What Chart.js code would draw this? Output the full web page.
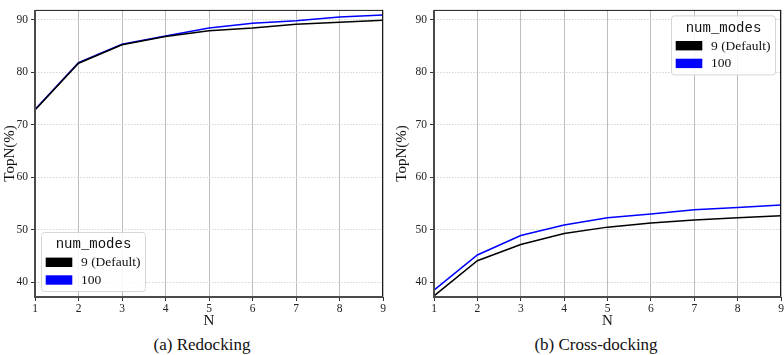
<!DOCTYPE html>
<html>
<head>
<meta charset="utf-8">
<script src="https://cdn.jsdelivr.net/npm/chart.js@4/dist/chart.umd.min.js"></script>
<style>
  html, body { margin: 0; padding: 0; background: #fff; width: 784px; height: 355px; overflow: hidden; position: relative; }
  canvas { position: absolute; top: 0; }
  #c1 { left: 0; }
  #c2 { left: 392px; }
  .cap { position: absolute; top: 335px; font-family: "Liberation Serif", serif; font-size: 17px; color: #111; white-space: nowrap; transform: translateX(-50%); line-height: 20px; }
</style>
</head>
<body>
<canvas id="c1" width="392" height="330"></canvas>
<canvas id="c2" width="400" height="330"></canvas>
<div class="cap" style="left:202px">(a) Redocking</div>
<div class="cap" style="left:596px">(b) Cross-docking</div>
<script>
const nLabels = ["1", "2", "3", "4", "5", "6", "7", "8", "9"];
const seriesNames = ["9 (Default)", "100"];
const legendTitle = "num_modes";
const redock9   = [72.8, 81.7, 85.2, 86.8, 87.9, 88.4, 89.1, 89.5, 89.9];
const redock100 = [72.9, 81.8, 85.3, 86.9, 88.4, 89.3, 89.8, 90.5, 90.9];
const cross9    = [37.4, 44.1, 47.2, 49.3, 50.5, 51.3, 51.85, 52.3, 52.65];
const cross100  = [38.5, 45.2, 48.9, 50.9, 52.3, 53.0, 53.8, 54.25, 54.7];
const yMin = 37.2, yMax = 91.85;

const serif = "'Liberation Serif', serif";

const framePlugin = {
  id: 'frame',
  afterDraw(chart) {
    const {ctx, chartArea: a} = chart;
    ctx.save();
    ctx.strokeStyle = '#1a1a1a';
    ctx.lineWidth = 1;
    ctx.beginPath();
    ctx.moveTo(a.left, a.top + 0.5); ctx.lineTo(a.right, a.top + 0.5);
    ctx.moveTo(a.right - 0.5, a.top); ctx.lineTo(a.right - 0.5, a.bottom);
    ctx.stroke();
    ctx.strokeStyle = '#4a4a4a';
    ctx.lineWidth = 2;
    ctx.beginPath();
    ctx.moveTo(a.left, a.top); ctx.lineTo(a.left, a.bottom + 1);
    ctx.moveTo(a.left - 1, a.bottom); ctx.lineTo(a.right, a.bottom);
    ctx.stroke();
    ctx.restore();
  }
};

const boxLegendPlugin = {
  id: 'boxLegend',
  afterDraw(chart, args, opts) {
    const {ctx, chartArea: a} = chart;
    const w = 104, h = 59;
    let x, y;
    if (opts.corner === 'bl') { x = a.left + 6; y = a.bottom - 6 - h; }
    else { x = a.right - 6 - w; y = a.top + 5.5; }
    ctx.save();
    ctx.beginPath();
    if (ctx.roundRect) ctx.roundRect(x + 0.5, y + 0.5, w, h, 3); else ctx.rect(x + 0.5, y + 0.5, w, h);
    ctx.fillStyle = 'rgba(255,255,255,0.85)';
    ctx.fill();
    ctx.strokeStyle = '#d6d6d6';
    ctx.lineWidth = 1;
    ctx.stroke();
    ctx.fillStyle = '#111';
    ctx.font = "14px 'Liberation Mono', monospace";
    ctx.textAlign = 'center';
    ctx.textBaseline = 'middle';
    ctx.fillText(legendTitle, x + w / 2 + 0.5, y + 12.5);
    ctx.font = "13.5px " + serif;
    ctx.textAlign = 'left';
    chart.data.datasets.forEach((ds, i) => {
      const ry = y + 25.6 + i * 17.7;
      ctx.fillStyle = ds.borderColor;
      ctx.fillRect(x + 4.7, ry, 26.6, 9.4);
      ctx.fillStyle = '#111';
      ctx.fillText(ds.label, x + 40, ry + 5);
    });
    ctx.restore();
  }
};

function makeChart(id, d9, d100, yAxisWidth, padRight, corner) {
  return new Chart(document.getElementById(id), {
    type: 'line',
    data: {
      labels: nLabels,
      datasets: [
        { label: seriesNames[0], data: d9, borderColor: '#000000', backgroundColor: '#000000', borderWidth: 1.5, pointRadius: 0, tension: 0 },
        { label: seriesNames[1], data: d100, borderColor: '#0000ff', backgroundColor: '#0000ff', borderWidth: 1.5, pointRadius: 0, tension: 0 }
      ]
    },
    options: {
      responsive: false,
      animation: false,
      devicePixelRatio: 1,
      layout: { padding: { left: 0, top: 2, right: padRight, bottom: 0 } },
      plugins: {
        legend: { display: false },
        tooltip: { enabled: false },
        boxLegend: { corner: corner }
      },
      scales: {
        x: {
          type: 'category',
          offset: false,
          grid: { color: '#bdbdbd', lineWidth: 1, tickLength: 4, tickColor: '#333', drawTicks: true },
          border: { display: false },
          ticks: { font: { family: serif, size: 11.5 }, color: '#222', padding: 1, maxRotation: 0, autoSkip: false },
          title: { display: true, text: 'N', font: { family: serif, size: 15 }, color: '#111', padding: { top: 1, bottom: 0 } },
          afterFit(s) { s.height = 33; }
        },
        y: {
          min: yMin, max: yMax,
          grid: { color: '#d4d4d4', lineWidth: 1, tickLength: 4, tickColor: '#333' },
          border: { display: false, dash: [1.5, 1.5] },
          ticks: { stepSize: 10, includeBounds: false, font: { family: serif, size: 11.5 }, color: '#222', padding: 3 },
          title: { display: true, text: 'TopN(%)', font: { family: serif, size: 15 }, color: '#111', padding: { top: 1, bottom: 0 } },
          afterFit(s) { s.width = yAxisWidth; }
        }
      }
    },
    plugins: [framePlugin, boxLegendPlugin]
  });
}

makeChart('c1', redock9, redock100, 35, 9, 'bl');
makeChart('c2', cross9, cross100, 42, 11, 'tr');
</script>
</body>
</html>
